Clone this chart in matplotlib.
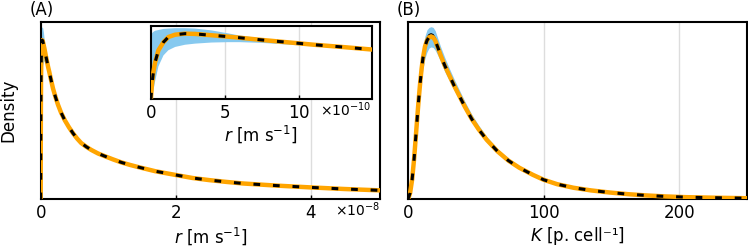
import numpy as np
import matplotlib
matplotlib.use("Agg")
import matplotlib.pyplot as plt
from matplotlib.ticker import ScalarFormatter

# panel A: density of r (values in m/s)
r_vals = [0, 0.07e-10, 0.17e-10, 0.29e-10, 0.51e-10, 0.85e-10, 1.18e-10, 1.64e-10,
          2.31e-10, 2.98e-10, 4.1e-10, 5.2e-10, 6.0e-10, 7.5e-10, 9.4e-10, 11.0e-10,
          12.7e-10, 14.9e-10,
          0.182e-8, 0.22e-8, 0.256e-8, 0.30e-8, 0.356e-8, 0.42e-8, 0.479e-8, 0.54e-8,
          0.60e-8, 0.675e-8, 0.75e-8, 0.85e-8, 0.948e-8, 1.07e-8, 1.194e-8, 1.32e-8,
          1.44e-8, 1.7e-8, 2.0e-8, 2.25e-8, 2.5e-8, 2.75e-8, 3.0e-8, 3.5e-8, 4.0e-8,
          4.5e-8, 5.05e-8]
r_dens = [0, 0.20, 0.375, 0.51, 0.67, 0.78, 0.85, 0.882, 0.896, 0.892, 0.874, 0.855,
          0.840, 0.810, 0.775, 0.745, 0.718, 0.680,
          0.625, 0.575, 0.533, 0.49, 0.446, 0.405, 0.372, 0.342, 0.317, 0.296, 0.278,
          0.258, 0.243, 0.225, 0.208, 0.194, 0.182, 0.158, 0.137, 0.12, 0.108, 0.098,
          0.089, 0.077, 0.067, 0.058, 0.050]
r_upper = [0.86, 0.90, 0.92, 0.935, 0.945, 0.96, 0.965, 0.97, 0.97, 0.965, 0.94, 0.90,
           0.87, 0.83, 0.79, 0.76, 0.73, 0.69,
           0.629, 0.579, 0.537, 0.494, 0.45, 0.409, 0.376, 0.346, 0.321, 0.30, 0.282,
           0.262, 0.247, 0.229, 0.212, 0.198, 0.186, 0.162, 0.141, 0.124, 0.112, 0.102,
           0.093, 0.081, 0.071, 0.062, 0.054]
r_lower = [0, 0.04, 0.12, 0.25, 0.45, 0.60, 0.67, 0.715, 0.745, 0.76, 0.775, 0.78,
           0.78, 0.77, 0.745, 0.725, 0.70, 0.665,
           0.621, 0.571, 0.529, 0.486, 0.442, 0.401, 0.368, 0.338, 0.313, 0.292, 0.274,
           0.254, 0.239, 0.221, 0.204, 0.19, 0.178, 0.154, 0.133, 0.116, 0.104, 0.094,
           0.085, 0.073, 0.063, 0.054, 0.046]

# panel B: density of K
k_vals = [0, 1.5, 3, 4.5, 6, 7, 8, 9, 10, 11, 12.5, 14, 15.5, 17, 18.5, 20, 22, 24,
          27, 30, 34, 38, 42, 47, 52, 58, 66, 74, 82, 92, 100, 110, 122, 135, 149,
          162, 175, 190, 205, 225, 250]
k_dens = [0, 0.035, 0.11, 0.23, 0.38, 0.48, 0.575, 0.66, 0.735, 0.795, 0.86, 0.895,
          0.912, 0.917, 0.912, 0.895, 0.855, 0.812, 0.755, 0.705, 0.64, 0.58, 0.52,
          0.452, 0.395, 0.335, 0.27, 0.218, 0.178, 0.138, 0.11, 0.085, 0.065, 0.05,
          0.038, 0.029, 0.022, 0.016, 0.012, 0.009, 0.006]
k_true = [0, 0.035, 0.11, 0.23, 0.38, 0.48, 0.575, 0.66, 0.74, 0.805, 0.873, 0.909,
          0.927, 0.932, 0.927, 0.908, 0.866, 0.82, 0.758, 0.705, 0.64, 0.58, 0.52,
          0.452, 0.395, 0.335, 0.27, 0.218, 0.178, 0.138, 0.11, 0.085, 0.065, 0.05,
          0.038, 0.029, 0.022, 0.016, 0.012, 0.009, 0.006]
k_upper = [0, 0.05, 0.14, 0.27, 0.42, 0.525, 0.625, 0.715, 0.79, 0.855, 0.92, 0.955,
           0.968, 0.972, 0.968, 0.95, 0.905, 0.86, 0.80, 0.745, 0.677, 0.613, 0.55,
           0.478, 0.418, 0.354, 0.285, 0.23, 0.187, 0.145, 0.115, 0.089, 0.068, 0.052,
           0.04, 0.03, 0.023, 0.017, 0.0125, 0.0094, 0.0063]
k_lower = [0, 0.022, 0.085, 0.195, 0.34, 0.44, 0.53, 0.61, 0.68, 0.735, 0.795, 0.83,
           0.852, 0.858, 0.855, 0.84, 0.81, 0.775, 0.72, 0.675, 0.615, 0.56, 0.5,
           0.435, 0.38, 0.322, 0.26, 0.21, 0.172, 0.133, 0.106, 0.082, 0.062, 0.048,
           0.036, 0.028, 0.021, 0.015, 0.0115, 0.0086, 0.0057]

BLUE = "#86c9ef"
ORANGE = "#ffa500"
plt.rcParams["font.size"] = 12
plt.rcParams["axes.linewidth"] = 1.5


def draw(ax, x, y, lo, hi, true=None):
    ax.fill_between(x, lo, hi, color=BLUE, lw=0, zorder=1)
    if true is not None:
        ax.plot(x, true, color="black", lw=1.0, zorder=2)
    ax.plot(x, y, color=ORANGE, lw=3.2, zorder=3, solid_capstyle="butt")
    ax.plot(x, y, color="black", lw=2.2, ls=(0, (2.2, 4.2)), zorder=4)
    ax.set_ylim(0, 1)
    ax.set_yticks([])
    ax.grid(axis="x", color="#dddddd", lw=1)
    ax.set_axisbelow(True)
    ax.tick_params(axis="x", direction="in", length=3, width=1)


def sci(ax, power, label, dy):
    fmt = ScalarFormatter(useMathText=True)
    fmt.set_powerlimits((power, power))
    ax.xaxis.set_major_formatter(fmt)
    ax.xaxis.get_offset_text().set_visible(False)
    ax.text(1.0, dy, label, transform=ax.transAxes, ha="right", va="top",
            fontsize=10)


fig = plt.figure(figsize=(7.48, 2.48), dpi=100)

ax1 = fig.add_axes([0.0544, 0.1964, 0.4536, 0.716])
draw(ax1, r_vals, r_dens, r_lower, r_upper)
ax1.set_xlim(0, 5.03e-8)
ax1.set_xticks([0, 2e-8, 4e-8])
sci(ax1, -8, r"$\times10^{-8}$", -0.005)
ax1.set_xlabel(r"$r$ [m s$^{-1}$]", labelpad=2)
ax1.set_ylabel("Density")
ax1.yaxis.set_label_coords(-0.07, 0.5)

ins = fig.add_axes([0.2017, 0.5988, 0.2952, 0.2964])
draw(ins, r_vals, r_dens, r_lower, r_upper)
ins.set_xlim(0, 1.49e-9)
ins.set_xticks([0, 5e-10, 10e-10])
sci(ins, -10, r"$\times10^{-10}$", -0.01)
ins.set_xlabel(r"$r$ [m s$^{-1}$]", labelpad=1)

ax2 = fig.add_axes([0.5455, 0.1964, 0.4532, 0.716])
draw(ax2, k_vals, k_dens, k_lower, k_upper, true=k_true)
ax2.set_xlim(0, 250)
ax2.set_xticks([0, 100, 200])
ax2.set_xlabel("$K$ [p. cell⁻¹]", labelpad=2)

fig.text(0.039, 0.995, "(A)", va="top", ha="left")
fig.text(0.530, 0.995, "(B)", va="top", ha="left")

fig.savefig("out.png", dpi=100)
